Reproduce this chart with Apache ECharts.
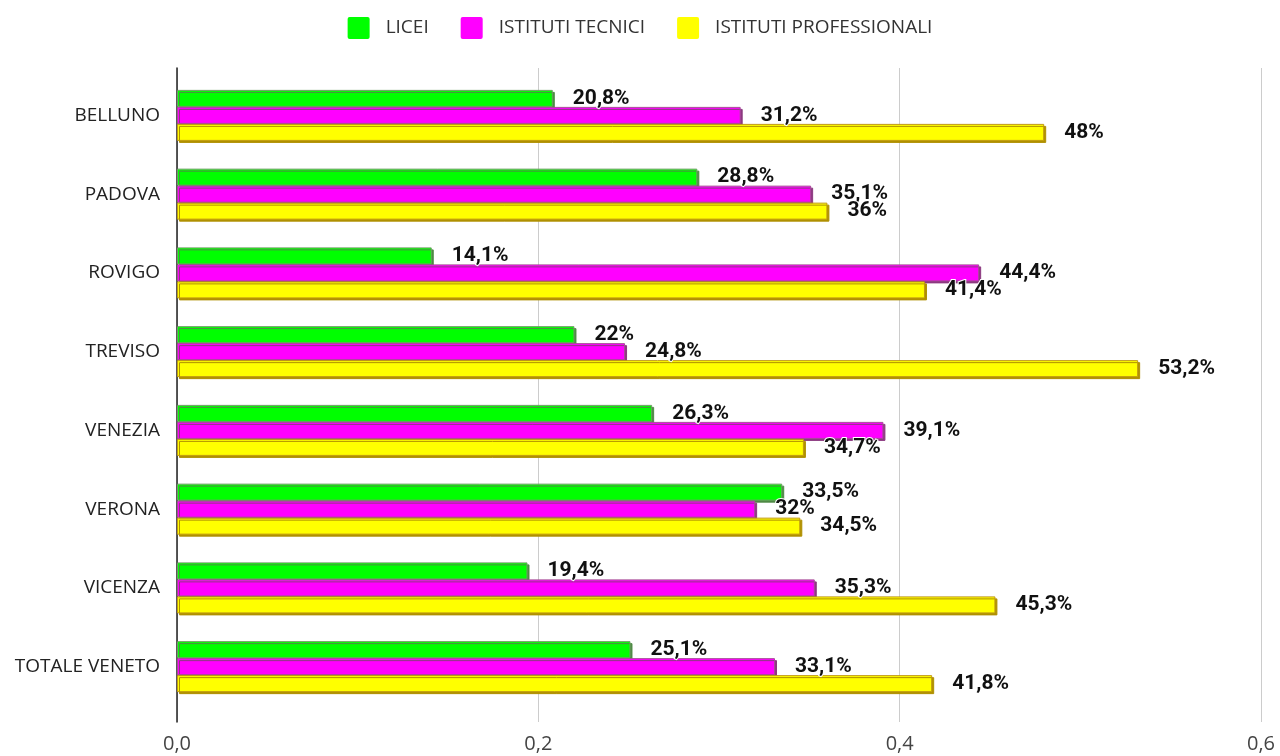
<!DOCTYPE html>
<html>
<head>
<meta charset="utf-8">
<script src="https://cdn.jsdelivr.net/npm/echarts@6/dist/echarts.min.js"></script>
<style>
  html, body { margin: 0; padding: 0; background: #fff; }
  #chart { width: 1280px; height: 756px; }
</style>
</head>
<body>
<div id="chart"></div>
<script>
// dati
const province = ['BELLUNO', 'PADOVA', 'ROVIGO', 'TREVISO', 'VENEZIA', 'VERONA', 'VICENZA', 'TOTALE VENETO']
const licei = [0.208, 0.288, 0.141, 0.22, 0.263, 0.335, 0.194, 0.251]
const tecnici = [0.312, 0.351, 0.444, 0.248, 0.391, 0.32, 0.353, 0.331]
const professionali = [0.48, 0.36, 0.414, 0.532, 0.347, 0.345, 0.453, 0.418]
const xTicks = [0, 0.2, 0.4, 0.6]

const myChart = echarts.init(document.getElementById('chart'))

function pct(v) {
  return (Math.round(v * 1000) / 10).toString().replace('.', ',') + '%'
}

function barSerie(name, data, color, border, shadow) {
  return {
    name: name,
    type: 'bar',
    xAxisIndex: 1,
    yAxisIndex: 1,
    data: data,
    barWidth: 17,
    barGap: '0%',
    itemStyle: {
      color: color,
      borderColor: border,
      borderWidth: 1,
      shadowColor: shadow,
      shadowOffsetX: 2,
      shadowOffsetY: 2,
      shadowBlur: 0
    },
    label: {
      show: true,
      position: 'right',
      distance: 20,
      formatter: p => pct(p.value),
      fontFamily: 'Roboto',
      fontWeight: 'bold',
      fontSize: 21,
      color: '#111',
      textBorderColor: '#fff',
      textBorderWidth: 2
    }
  }
}

const option = {
  animation: false,
  textStyle: { fontFamily: 'Open Sans' },
  legend: {
    top: 12,
    left: 'center',
    // quadratino con angoli appena arrotondati
    icon: 'path://M2,0 L20,0 Q22,0 22,2 L22,20 Q22,22 20,22 L2,22 Q0,22 0,20 L0,2 Q0,0 2,0 Z',
    itemWidth: 22,
    itemHeight: 22,
    itemGap: 32,
    itemStyle: { borderWidth: 0, shadowBlur: 0, shadowOffsetX: 0, shadowOffsetY: 0 },
    textStyle: { fontSize: 19, color: '#333', fontFamily: 'Open Sans', padding: [0, 0, 0, 11] },
    data: ['LICEI', 'ISTITUTI TECNICI', 'ISTITUTI PROFESSIONALI']
  },
  grid: [
    // griglia di sfondo: linee e etichette asse x
    { left: 177, right: 19, top: 68, bottom: 34 },
    // griglia delle barre
    { left: 177, right: 19, top: 76, bottom: 50 }
  ],
  xAxis: [
    {
      gridIndex: 0,
      type: 'value',
      min: xTicks[0],
      max: xTicks[xTicks.length - 1],
      interval: 0.2,
      axisLine: { show: false },
      axisTick: { show: false },
      axisLabel: {
        margin: 12,
        fontSize: 20,
        color: '#444',
        formatter: v => v.toFixed(1).replace('.', ',')
      },
      splitLine: { show: true, lineStyle: { color: '#ccc', width: 1 } }
    },
    {
      gridIndex: 1,
      type: 'value',
      min: xTicks[0],
      max: xTicks[xTicks.length - 1],
      axisLine: { show: false },
      axisTick: { show: false },
      axisLabel: { show: false },
      splitLine: { show: false }
    }
  ],
  yAxis: [
    {
      gridIndex: 0,
      type: 'value',
      min: 0,
      max: 1,
      axisLine: { show: true, onZero: false, lineStyle: { color: '#222', width: 1.5 } },
      axisTick: { show: false },
      axisLabel: { show: false },
      splitLine: { show: false }
    },
    {
      gridIndex: 1,
      type: 'category',
      inverse: true,
      data: province,
      axisLine: { show: false },
      axisTick: { show: false },
      axisLabel: { fontSize: 19, color: '#222', margin: 17 }
    }
  ],
  series: [
    barSerie('LICEI', licei, '#00ff00', '#6f9f63', '#4f8a45'),
    barSerie('ISTITUTI TECNICI', tecnici, '#ff00ff', '#a84a98', '#8c3a80'),
    barSerie('ISTITUTI PROFESSIONALI', professionali, '#ffff00', '#c09a10', '#b09000')
  ]
}

myChart.setOption(option)
</script>
</body>
</html>
